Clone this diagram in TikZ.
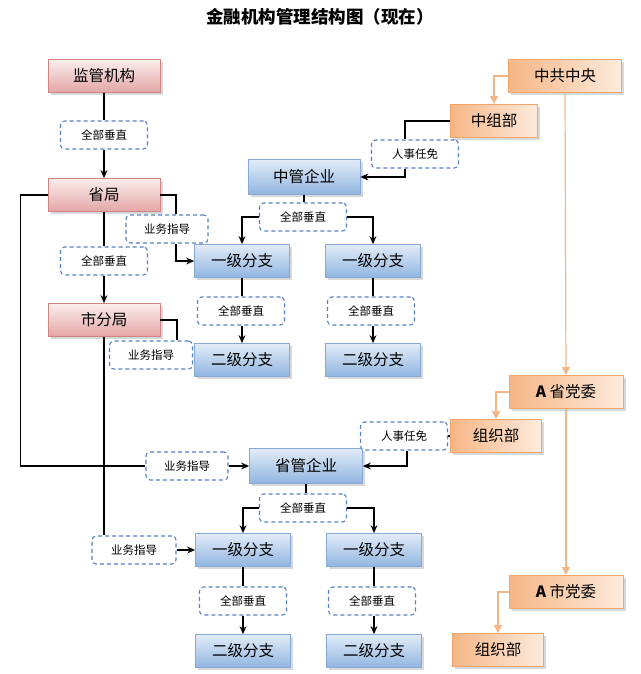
\documentclass[tikz,border=0pt]{standalone}
\usepackage{fontspec}
\setmainfont{Noto Sans CJK SC}
\usetikzlibrary{positioning,shadows,arrows.meta}

\definecolor{pinkL}{HTML}{FBEDED}
\definecolor{pinkD}{HTML}{E3A6A5}
\definecolor{pinkB}{HTML}{CD8584}
\definecolor{blueL}{HTML}{E2ECF8}
\definecolor{blueD}{HTML}{90B5E0}
\definecolor{blueB}{HTML}{86A9D6}
\definecolor{orangeL}{HTML}{FDEBDC}
\definecolor{orangeD}{HTML}{F6B686}
\definecolor{orangeB}{HTML}{F2A66C}
\definecolor{orangeLn}{HTML}{F5B685}
\definecolor{dashB}{HTML}{5681C2}

\begin{document}
\begin{tikzpicture}[x=1pt,y=-1pt,
  box/.style={draw,line width=0.8pt,minimum height=33pt,inner sep=0pt,
    font=\fontsize{15.5}{18}\selectfont,
    drop shadow={shadow xshift=2.5pt,shadow yshift=-2.5pt,fill=black!30}},
  jgbox/.style={box,draw=pinkB,top color=pinkL,bottom color=pinkD,minimum width=112pt},
  qybox/.style={box,draw=blueB,top color=blueL,bottom color=blueD,minimum width=95pt},
  dwbox/.style={box,draw=orangeB,left color=orangeD,right color=orangeL},
  tag/.style={draw=dashB,line width=1.1pt,dash pattern=on 4pt off 3pt,rounded corners=4pt,
    fill=white,minimum height=28pt,minimum width=87pt,inner sep=0pt,
    font=\fontsize{11.5}{14}\selectfont},
  line/.style={line width=1.1pt,black},
  arr/.style={line,-{Stealth[length=8pt,width=7pt]}},
  oarr/.style={line width=1.2pt,draw=orangeLn,-{Triangle[length=8pt,width=8pt]}}
]
\useasboundingbox (0,0) rectangle (640,674);

%Title
\node[font=\fontsize{17.5}{20}\selectfont\bfseries] (title) at (320,17) {金融机构管理结构图（现在）};

%Regulator column
\node[jgbox] (jgjg) at (104,76) {监管机构};
\node[tag] (cz1) at (104,135) {全部垂直};
\node[jgbox] (sj) at (104,195) {省局};
\node[tag] (cz2) at (104,261) {全部垂直};
\node[jgbox] (sfj) at (104,320) {市分局};
\node[tag,minimum width=82pt] (yw1) at (167,229) {业务指导};
\node[tag,minimum width=83pt] (yw2) at (151,355) {业务指导};
\node[tag,minimum width=82pt] (yw3) at (187,466) {业务指导};
\node[tag,minimum width=84pt] (yw4) at (134,550) {业务指导};

%Central enterprises
\node[qybox,minimum width=112pt,minimum height=35pt] (zgqy) at (304,177) {中管企业};
\node[tag] (cz3) at (303,217) {全部垂直};
\node[qybox] (yj1) at (242,261) {一级分支};
\node[qybox] (yj2) at (373,261) {一级分支};
\node[tag] (cz4) at (241,311) {全部垂直};
\node[tag] (cz5) at (371,311) {全部垂直};
\node[qybox] (ej1) at (242,360) {二级分支};
\node[qybox] (ej2) at (373,360) {二级分支};

%Provincial enterprises
\node[qybox,minimum width=113pt,minimum height=35pt] (sgqy) at (306,466) {省管企业};
\node[tag] (cz6) at (303,508) {全部垂直};
\node[qybox] (yj3) at (243,550) {一级分支};
\node[qybox] (yj4) at (374,550) {一级分支};
\node[tag] (cz7) at (243,601) {全部垂直};
\node[tag] (cz8) at (372,601) {全部垂直};
\node[qybox] (ej3) at (243,651) {二级分支};
\node[qybox] (ej4) at (374,651) {二级分支};

%Party committees
\node[dwbox,minimum width=113pt] (zgzy) at (565,76) {中共中央};
\node[dwbox,minimum width=87pt] (zzb) at (494,121) {中组部};
\node[tag] (rs1) at (415,154) {人事任免};
\node[dwbox,minimum width=114pt] (asdw) at (566,392) {\textbf{A} 省党委};
\node[dwbox,minimum width=91pt] (zzb2) at (496,436) {组织部};
\node[tag] (rs2) at (404,436) {人事任免};
\node[dwbox,minimum width=114pt] (asdw2) at (566,592) {\textbf{A} 市党委};
\node[dwbox,minimum width=91pt] (zzb3) at (498,650) {组织部};

%Vertical management lines
\draw[line] (jgjg) -- (cz1);
\draw[arr] (cz1) -- (sj);
\draw[line] (sj) -- (cz2);
\draw[arr] (cz2) -- (sfj);
\draw[line] (zgqy.south) -- (zgqy.south |- cz3.north);
\draw[arr] (cz3.west) -| (yj1.north);
\draw[arr] (cz3.east) -| (yj2.north);
\draw[line] (sgqy.south) -- (sgqy.south |- cz6.north);
\draw[arr] (cz6.west) -| (yj3.north);
\draw[arr] (cz6.east) -| (yj4.north);
\foreach \a/\q/\b in {yj1/cz4/ej1,yj2/cz5/ej2,yj3/cz7/ej3,yj4/cz8/ej4}{
  \draw[line] (\a.south) -- (\a.south |- \q.north);
  \draw[arr] (\a.south |- \q.south) -- (\b.north);
}

%Business guidance
\draw[line] (sj.east) -| ([xshift=9pt]yw1.north);
\draw[arr] ([xshift=9pt]yw1.south) |- (yj1.west);
\draw[line] (sfj.east) -| ([xshift=26pt]yw2.north);
\draw[line] (sj.west) -- ++(-27,0) |- (yw3.west);
\draw[arr] (yw3.east) -- (sgqy.west);
\draw[line] (sfj.south) -- (sfj.south |- yw4.north);
\draw[arr] (yw4.east) -- (yj3.west);

%Appointments
\draw[line] (zzb.west) -| ([xshift=-10pt]rs1.north);
\draw[arr] ([xshift=-10pt]rs1.south) |- (zgqy.east);
\draw[line] (zzb2.west) -- (rs2.east);
\draw[arr] ([xshift=3pt]rs2.south) |- (sgqy.east);

%Party lines
\draw[oarr] (zgzy.west) -| (zzb.north);
\draw[oarr] (zgzy.south) -- (asdw.north);
\draw[oarr] (asdw.west) -| (zzb2.north);
\draw[oarr] (asdw.south) -- (asdw2.north);
\draw[oarr] (asdw2.west) -| (zzb3.north);
\end{tikzpicture}
\end{document}
